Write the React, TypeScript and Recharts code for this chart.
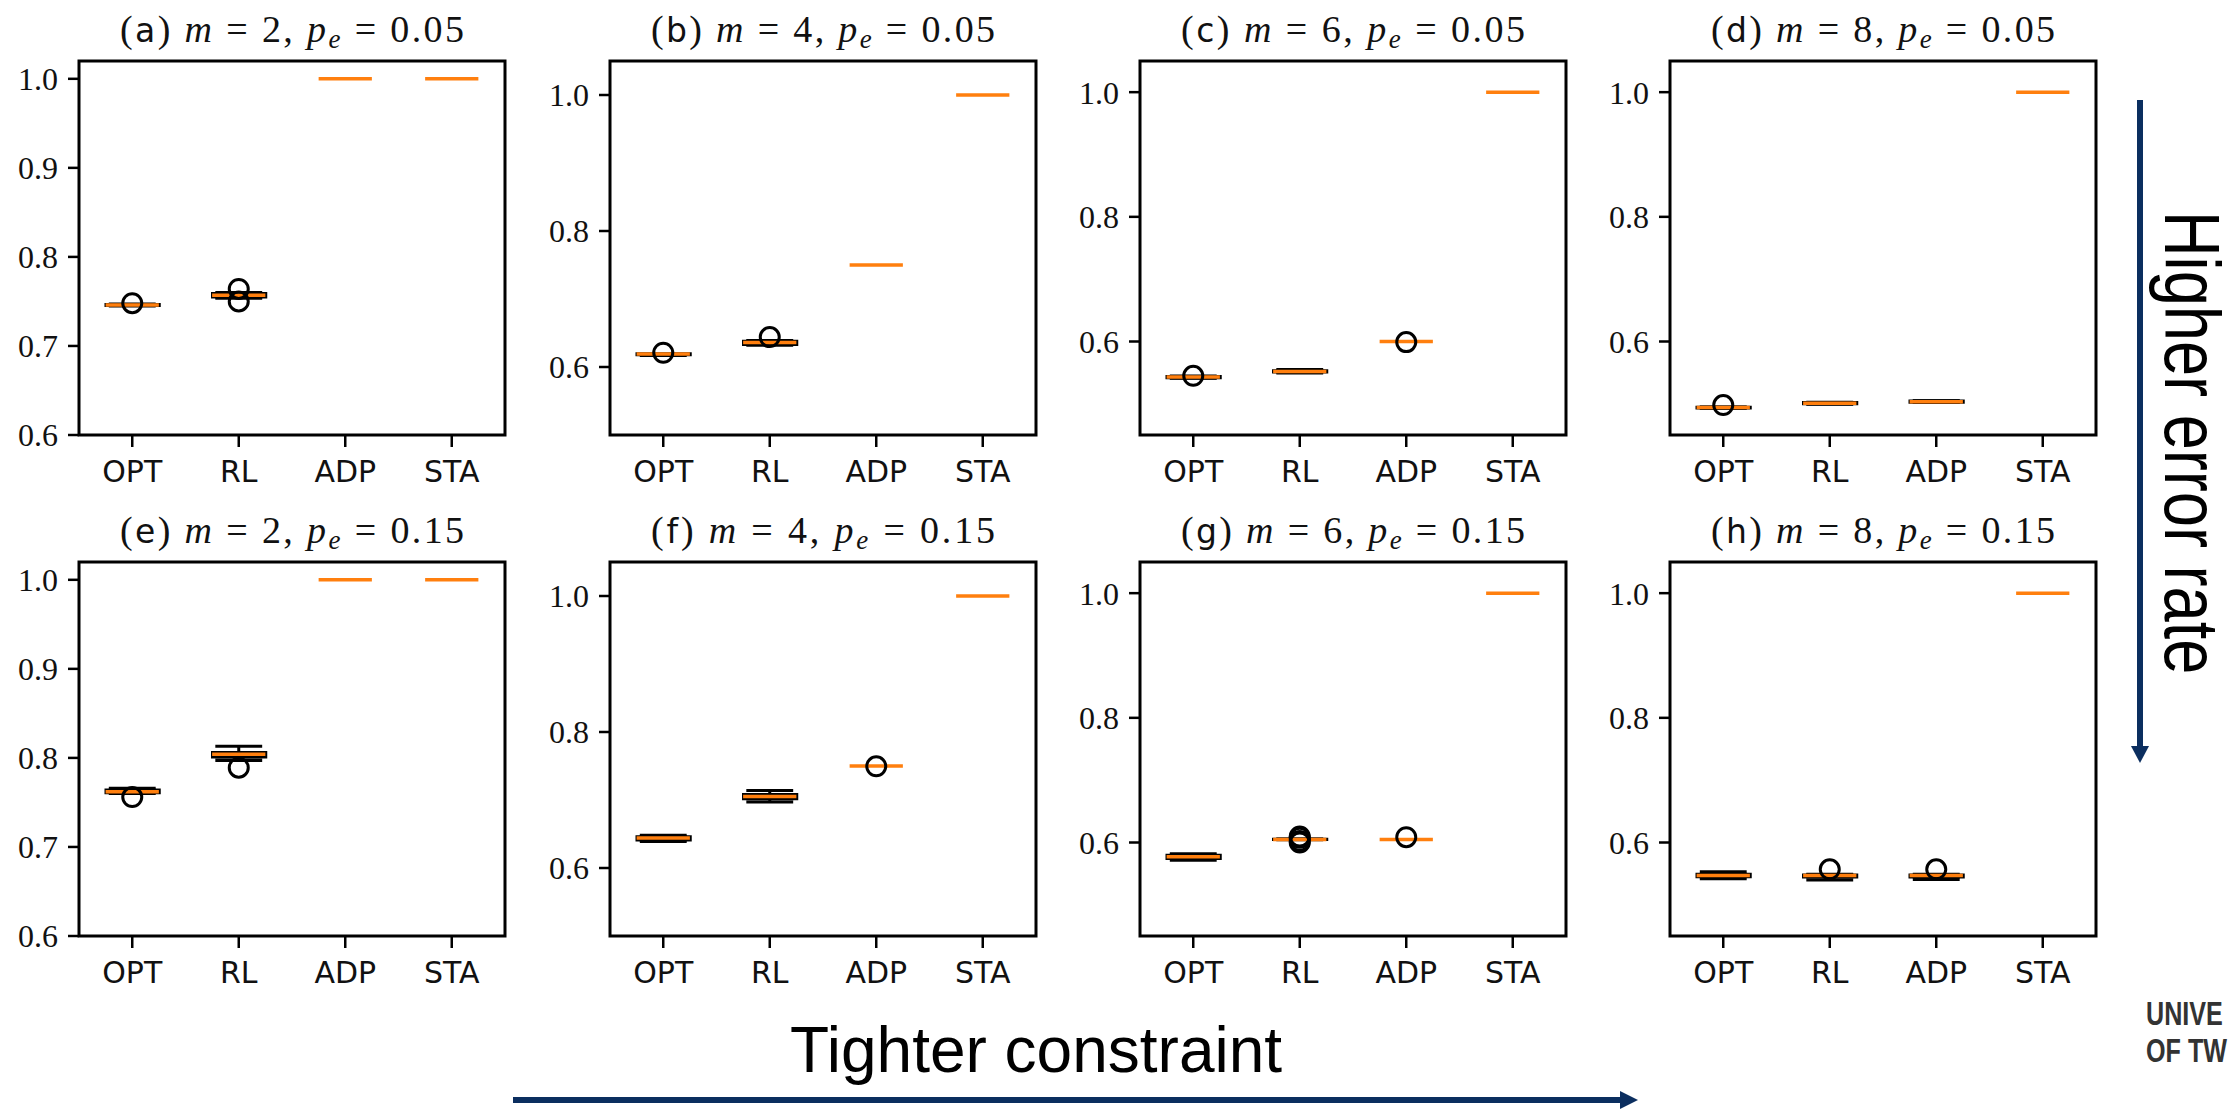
import React from 'react';
import { ComposedChart, Bar, Scatter, ErrorBar, XAxis, YAxis, ReferenceArea } from 'recharts';

// ---- data ----
const CATEGORIES = ['OPT', 'RL', 'ADP', 'STA'];
const POSITIONS = [1, 2, 3, 4];
const PANEL_LETTERS = ['a', 'b', 'c', 'd', 'e', 'f', 'g', 'h'];
const M_VALUES = [2, 4, 6, 8];
const PE_VALUES = ['0.05', '0.15'];

// y range + ticks per column (same for both rows)
const Y_DOMAINS = [
    [0.6, 1.02],
    [0.5, 1.05],
    [0.45, 1.05],
    [0.45, 1.05],
];
const Y_TICKS = [
    [0.6, 0.7, 0.8, 0.9, 1.0],
    [0.6, 0.8, 1.0],
    [0.6, 0.8, 1.0],
    [0.6, 0.8, 1.0],
];

// box stats, one row per panel (a..h), columns OPT, RL, ADP, STA
const MEDIAN = [
    [0.746, 0.757, 1.0, 1.0],
    [0.619, 0.636, 0.75, 1.0],
    [0.543, 0.552, 0.6, 1.0],
    [0.494, 0.501, 0.5035, 1.0],
    [0.762, 0.804, 1.0, 1.0],
    [0.644, 0.705, 0.75, 1.0],
    [0.577, 0.605, 0.605, 1.0],
    [0.547, 0.547, 0.547, 1.0],
];
const Q1 = [
    [0.7455, 0.755, 1.0, 1.0],
    [0.618, 0.633, 0.75, 1.0],
    [0.542, 0.551, 0.6, 1.0],
    [0.4935, 0.5, 0.5025, 1.0],
    [0.761, 0.801, 1.0, 1.0],
    [0.641, 0.702, 0.75, 1.0],
    [0.5745, 0.6048, 0.605, 1.0],
    [0.545, 0.5445, 0.5445, 1.0],
];
const Q3 = [
    [0.7465, 0.759, 1.0, 1.0],
    [0.6195, 0.638, 0.75, 1.0],
    [0.544, 0.553, 0.6, 1.0],
    [0.4945, 0.502, 0.5045, 1.0],
    [0.764, 0.806, 1.0, 1.0],
    [0.646, 0.708, 0.75, 1.0],
    [0.5795, 0.6052, 0.605, 1.0],
    [0.549, 0.548, 0.548, 1.0],
];
const WHISKER_LO = [
    [0.745, 0.7535, 1.0, 1.0],
    [0.617, 0.632, 0.75, 1.0],
    [0.541, 0.5495, 0.6, 1.0],
    [0.493, 0.4995, 0.502, 1.0],
    [0.76, 0.797, 1.0, 1.0],
    [0.639, 0.697, 0.75, 1.0],
    [0.5715, 0.6045, 0.605, 1.0],
    [0.542, 0.54, 0.5405, 1.0],
];
const WHISKER_HI = [
    [0.747, 0.76, 1.0, 1.0],
    [0.6195, 0.639, 0.75, 1.0],
    [0.5445, 0.555, 0.6, 1.0],
    [0.495, 0.5025, 0.505, 1.0],
    [0.766, 0.813, 1.0, 1.0],
    [0.648, 0.714, 0.75, 1.0],
    [0.582, 0.6055, 0.605, 1.0],
    [0.553, 0.549, 0.549, 1.0],
];
const FLIERS = [
    [[0.748], [0.764, 0.75], [], []],
    [[0.621], [0.644], [], []],
    [[0.545], [], [0.599], []],
    [[0.498], [], [], []],
    [[0.756], [0.789], [], []],
    [[], [], [0.7495], []],
    [[], [0.6095, 0.6075, 0.6025, 0.6], [0.6085], []],
    [[], [0.557], [0.557], []],
];

// ---- layout ----
const BOX_LEFT = [79, 610, 1140, 1670];
const BOX_TOP = [61, 562];
const PLOT_W = 426;
const PLOT_H = 374;
const Y_AXIS_W = 90;
const X_AXIS_H = 70;
const PAD = 6;
const UNIT_PX = PLOT_W / 4;
const BOX_HALF = 0.25;
const ORANGE = '#ff7f0e';
const NAVY = '#0b2e5f';
const SERIF = 'Liberation Serif, DejaVu Serif, Noto Serif, Times New Roman, serif';
const SANS = 'DejaVu Sans, Verdana, sans-serif';
const ARIAL = 'Liberation Sans, Arial, Helvetica, sans-serif';

const hidden = () => <g />;
const flier = (p: any) => (
    <circle cx={p.cx} cy={p.cy} r={9.5} fill="none" stroke="#000" strokeWidth={3} />
);

const Panel = ({ idx }: { idx: number }) => {
    const row = Math.floor(idx / 4);
    const col = idx % 4;
    const rows = POSITIONS.map((pos, i) => ({
        pos,
        med: MEDIAN[idx][i],
        q1: Q1[idx][i],
        q3: Q3[idx][i],
        lo: WHISKER_LO[idx][i],
        hi: WHISKER_HI[idx][i],
    }));
    const lowerWhiskers = rows.filter((r) => r.q1 > r.lo);
    const upperWhiskers = rows.filter((r) => r.hi > r.q3);
    const outliers = FLIERS[idx].flatMap((vals, i) => vals.map((v) => ({ pos: POSITIONS[i], v })));
    const [yMin, yMax] = Y_DOMAINS[col];

    return (
        <div
            style={{
                position: 'absolute',
                left: BOX_LEFT[col] - Y_AXIS_W,
                top: BOX_TOP[row] - PAD,
            }}
        >
            <ComposedChart
                width={Y_AXIS_W + PLOT_W + PAD}
                height={PAD + PLOT_H + X_AXIS_H}
                data={rows}
                margin={{ top: PAD, right: PAD, left: 0, bottom: 0 }}
            >
                <XAxis
                    dataKey="pos"
                    type="number"
                    domain={[0.5, 4.5]}
                    ticks={POSITIONS}
                    allowDataOverflow
                    axisLine={false}
                    tickLine={{ stroke: '#000', strokeWidth: 2.5 }}
                    tickSize={12}
                    tickMargin={14}
                    height={X_AXIS_H}
                    tick={{ fill: '#111', fontSize: 30, style: { fontFamily: SANS } }}
                    tickFormatter={(v) => CATEGORIES[v - 1]}
                />
                <YAxis
                    type="number"
                    domain={Y_DOMAINS[col]}
                    ticks={Y_TICKS[col]}
                    allowDataOverflow
                    axisLine={false}
                    tickLine={{ stroke: '#000', strokeWidth: 2.5 }}
                    tickSize={11}
                    tickMargin={10}
                    width={Y_AXIS_W}
                    tick={{ fill: '#111', fontSize: 32, style: { fontFamily: SERIF } }}
                    tickFormatter={(v) => v.toFixed(1)}
                />
                <Bar
                    dataKey={(d: any) => (d.q3 > d.q1 ? [d.q1, d.q3] : null)}
                    barSize={UNIT_PX * BOX_HALF * 2}
                    fill="none"
                    stroke="#000"
                    strokeWidth={3}
                    isAnimationActive={false}
                />
                {/* whiskers */}
                <Scatter data={lowerWhiskers} dataKey="q1" shape={hidden} isAnimationActive={false}>
                    <ErrorBar
                        dataKey={(d: any) => [d.q1 - d.lo, 0]}
                        direction="y"
                        width={UNIT_PX * 0.22}
                        stroke="#000"
                        strokeWidth={3}
                    />
                </Scatter>
                <Scatter data={upperWhiskers} dataKey="q3" shape={hidden} isAnimationActive={false}>
                    <ErrorBar
                        dataKey={(d: any) => [0, d.hi - d.q3]}
                        direction="y"
                        width={UNIT_PX * 0.22}
                        stroke="#000"
                        strokeWidth={3}
                    />
                </Scatter>
                <Scatter data={outliers} dataKey="v" shape={flier} isAnimationActive={false} />
                {/* medians */}
                <Scatter data={rows} dataKey="med" shape={hidden} isAnimationActive={false}>
                    <ErrorBar
                        dataKey={() => BOX_HALF}
                        direction="x"
                        width={0}
                        stroke={ORANGE}
                        strokeWidth={3.5}
                    />
                </Scatter>
                <ReferenceArea
                    x1={0.5}
                    x2={4.5}
                    y1={yMin}
                    y2={yMax}
                    fill="none"
                    fillOpacity={0}
                    stroke="#000"
                    strokeWidth={3}
                />
            </ComposedChart>
        </div>
    );
};

const Title = ({ idx }: { idx: number }) => {
    const row = Math.floor(idx / 4);
    const col = idx % 4;
    return (
        <text
            x={BOX_LEFT[col] + PLOT_W / 2}
            y={BOX_TOP[row] - 19}
            textAnchor="middle"
            style={{ fontFamily: SERIF }}
            fontSize={38}
            fill="#111"
            textLength={344}
            lengthAdjust="spacing"
        >
            <tspan>(</tspan>
            <tspan style={{ fontFamily: SANS }} fontSize={33}>{PANEL_LETTERS[idx]}</tspan>
            <tspan>{') '}</tspan>
            <tspan fontStyle="italic">m</tspan>
            <tspan>{` = ${M_VALUES[col]}, `}</tspan>
            <tspan fontStyle="italic">p</tspan>
            <tspan fontStyle="italic" fontSize={27} dy={6}>e</tspan>
            <tspan dy={-6}>{` = ${PE_VALUES[row]}`}</tspan>
        </text>
    );
};

export default function App() {
    return (
        <div style={{ position: 'relative', width: 2236, height: 1110, overflow: 'hidden', background: '#fff' }}>
            <style>{'body{margin:0}'}</style>
            {PANEL_LETTERS.map((_, i) => (
                <Panel key={i} idx={i} />
            ))}
            <svg
                width={2236}
                height={1110}
                style={{ position: 'absolute', left: 0, top: 0, pointerEvents: 'none' }}
            >
                {PANEL_LETTERS.map((_, i) => (
                    <Title key={i} idx={i} />
                ))}
                {/* bottom annotation */}
                <text x={790} y={1072} style={{ fontFamily: ARIAL }} fontSize={64} fill="#000">
                    Tighter constraint
                </text>
                <line x1={513} y1={1100} x2={1622} y2={1100} stroke={NAVY} strokeWidth={6} />
                <polygon points="1620,1091 1638,1100 1620,1109" fill={NAVY} />
                {/* right annotation */}
                <line x1={2140} y1={100} x2={2140} y2={748} stroke={NAVY} strokeWidth={6} />
                <polygon points="2131,746 2149,746 2140,763" fill={NAVY} />
                <text
                    transform="translate(2165,211) rotate(90) scale(0.81,1)"
                    style={{ fontFamily: ARIAL }}
                    fontSize={78}
                    fill="#000"
                >
                    Higher error rate
                </text>
                {/* logo (cut at the right edge in the source) */}
                <text
                    transform="translate(2146,1025) scale(0.74,1)"
                    style={{ fontFamily: ARIAL }}
                    fontWeight="bold"
                    fontSize={34}
                    fill="#333"
                >
                    UNIVE
                </text>
                <text
                    transform="translate(2146,1062) scale(0.74,1)"
                    style={{ fontFamily: ARIAL }}
                    fontWeight="bold"
                    fontSize={34}
                    fill="#333"
                >
                    OF TW
                </text>
            </svg>
        </div>
    );
}
